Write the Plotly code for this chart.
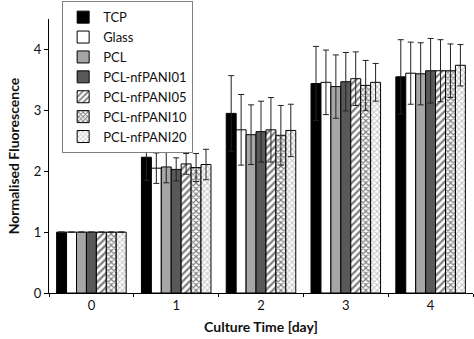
import plotly.graph_objects as go

days = ["0", "1", "2", "3", "4"]
series_names = ["TCP", "Glass", "PCL", "PCL-nfPANI01", "PCL-nfPANI05", "PCL-nfPANI10", "PCL-nfPANI20"]

tcp = [1.0, 2.23, 2.95, 3.44, 3.55]
glass = [1.0, 2.05, 2.68, 3.46, 3.61]
pcl = [1.0, 2.07, 2.60, 3.39, 3.60]
nf01 = [1.0, 2.03, 2.65, 3.47, 3.65]
nf05 = [1.0, 2.12, 2.68, 3.52, 3.65]
nf10 = [1.0, 2.06, 2.59, 3.41, 3.65]
nf20 = [1.0, 2.11, 2.67, 3.46, 3.74]

tcp_err = [0, 0.38, 0.62, 0.61, 0.61]
glass_err = [0, 0.25, 0.58, 0.53, 0.51]
pcl_err = [0, 0.26, 0.49, 0.52, 0.51]
nf01_err = [0, 0.19, 0.50, 0.48, 0.53]
nf05_err = [0, 0.17, 0.53, 0.44, 0.51]
nf10_err = [0, 0.23, 0.49, 0.41, 0.44]
nf20_err = [0, 0.25, 0.43, 0.31, 0.34]

values = [tcp, glass, pcl, nf01, nf05, nf10, nf20]
errors = [tcp_err, glass_err, pcl_err, nf01_err, nf05_err, nf10_err, nf20_err]

styles = [
    dict(color="#000000", pattern=None),
    dict(color="#ffffff", pattern=None),
    dict(color="#a6a6a6", pattern=None),
    dict(color="#595959", pattern=None),
    dict(color="#ffffff", pattern=dict(shape="/", fgcolor="#000000", bgcolor="#ffffff", size=5, solidity=0.45)),
    dict(color="#ffffff", pattern=dict(shape="x", fgcolor="#000000", bgcolor="#ffffff", size=4, solidity=0.5)),
    dict(color="#ffffff", pattern=dict(shape="x", fgcolor="#8c8c8c", bgcolor="#ffffff", size=4, solidity=0.45)),
]

fig = go.Figure()
for name, vals, errs, st in zip(series_names, values, errors, styles):
    marker = dict(color=st["color"], line=dict(color="#000000", width=1))
    if st["pattern"] is not None:
        marker["pattern"] = st["pattern"]
    fig.add_trace(go.Bar(
        x=days, y=vals, name=name, marker=marker,
        error_y=dict(type="data", array=errs, visible=True, color="#222222", thickness=1, width=3),
    ))

fig.update_layout(
    width=474, height=339,
    margin=dict(l=49, r=1, t=17, b=46),
    paper_bgcolor="white", plot_bgcolor="white",
    barmode="group", bargap=0.18, bargroupgap=0,
    font=dict(family="Lato, Open Sans, sans-serif", size=13, color="#111111"),
    showlegend=True,
    legend=dict(
        x=0.031, y=1.065, xanchor="left", yanchor="top",
        bordercolor="#808080", borderwidth=1, bgcolor="white",
        font=dict(size=13), tracegroupgap=0, itemwidth=30,
    ),
    xaxis=dict(
        title=dict(text="<b>Culture Time [day]</b>", font=dict(size=14), standoff=10),
        showline=True, linecolor="#000000", linewidth=1,
        ticks="outside", tickson="boundaries", ticklen=3, tickcolor="#000000",
        showgrid=False, tickfont=dict(size=13),
    ),
    yaxis=dict(
        title=dict(text="<b>Normalised Fluorescence</b>", font=dict(size=14), standoff=10),
        range=[0, 4.5], dtick=1, tick0=0,
        showline=True, linecolor="#000000", linewidth=1,
        ticks="outside", ticklen=4, tickcolor="#000000",
        showgrid=False, zeroline=False, tickfont=dict(size=13),
    ),
)

fig.write_html("out.html")
